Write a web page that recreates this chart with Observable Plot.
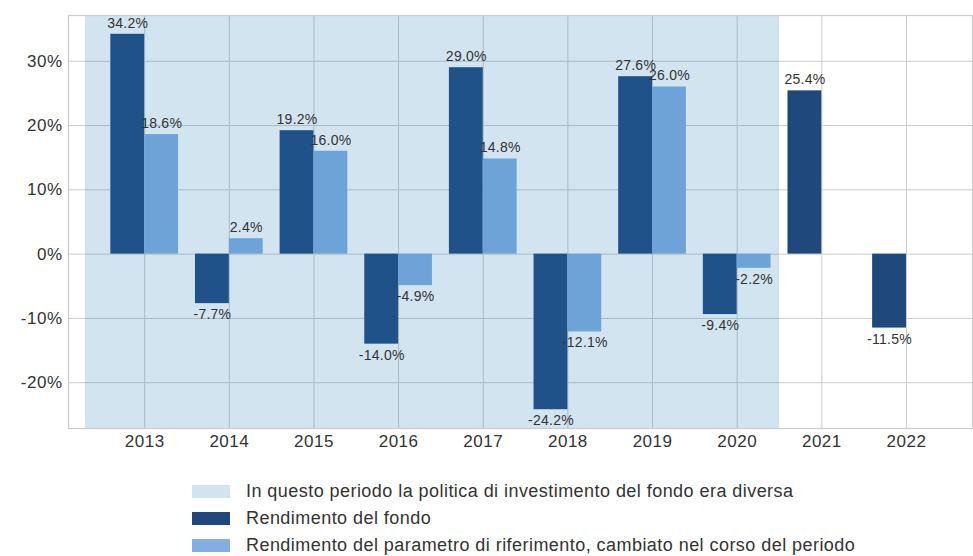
<!DOCTYPE html>
<html>
<head>
<meta charset="utf-8">
<script src="https://cdn.jsdelivr.net/npm/d3@7"></script>
<script src="https://cdn.jsdelivr.net/npm/@observablehq/plot@0.6"></script>
<style>
  body { margin: 0; background: #fff; font-family: "Liberation Sans", Arial, sans-serif; }
  #chart svg { display: block; }
  #chart g[aria-label$="tick label"] text { letter-spacing: 0.5px; }
  #chart g[aria-label="text"] text { letter-spacing: 0.25px; }
  #legend { margin-top: 20px; margin-left: 192px; color: #333; font-size: 18px; letter-spacing: 0.45px; }
  .row { display: flex; align-items: center; height: 27px; }
  .sw { width: 38px; height: 13px; margin-right: 16px; flex: none; }
</style>
</head>
<body>
<div id="chart"></div>
<div id="legend"></div>
<script>
const years = [2013, 2014, 2015, 2016, 2017, 2018, 2019, 2020, 2021, 2022];
const fund = [34.2, -7.7, 19.2, -14.0, 29.0, -24.2, 27.6, -9.4, 25.4, -11.5];
const bench = [18.6, 2.4, 16.0, -4.9, 14.8, -12.1, 26.0, -2.2, null, null];
const yTicks = [-20, -10, 0, 10, 20, 30];
const shadePeriod = [{start: 2012.3, end: 2020.5}];
const legendLabels = [
  "In questo periodo la politica di investimento del fondo era diversa",
  "Rendimento del fondo",
  "Rendimento del parametro di riferimento, cambiato nel corso del periodo"
];

const cFund = "#1f497d";
const cBench = "#83aee1";
const cShade = "#1f77b4";
const yDomain = [-27.12, 37.12];

const fundRows = years.map((year, i) => ({year, value: fund[i]}));
const benchRows = years.map((year, i) => ({year, value: bench[i]})).filter(d => d.value != null);
const fmt = v => v.toFixed(1) + "%";
const font = "'Liberation Sans', Arial, sans-serif";

const labelMarks = (rows, off) => [
  Plot.text(rows.filter(d => d.value >= 0), {x: d => d.year + off, y: "value", text: d => fmt(d.value), dy: -11, fontSize: 14, fill: "#333"}),
  Plot.text(rows.filter(d => d.value < 0), {x: d => d.year + off, y: "value", text: d => fmt(d.value), dy: 11, fontSize: 14, fill: "#333"})
];

const chart = Plot.plot({
  width: 973,
  height: 458,
  marginLeft: 68,
  marginRight: 1,
  marginTop: 15,
  marginBottom: 30,
  x: {type: "linear", domain: [2012.1, 2022.78], axis: null},
  y: {domain: yDomain, axis: null},
  style: {fontFamily: font, background: "#fff"},
  marks: [
    Plot.gridX(years, {stroke: "#cccccc", strokeOpacity: 1, strokeWidth: 1}),
    Plot.gridY(yTicks, {stroke: "#cccccc", strokeOpacity: 1, strokeWidth: 1}),
    Plot.rect(fundRows, {x1: d => d.year - 0.4, x2: d => d.year, y1: 0, y2: "value", fill: cFund}),
    Plot.rect(benchRows, {x1: d => d.year, x2: d => d.year + 0.4, y1: 0, y2: "value", fill: cBench}),
    Plot.rect(shadePeriod, {x1: "start", x2: "end", y1: yDomain[0], y2: yDomain[1], fill: cShade, fillOpacity: 0.2}),
    ...labelMarks(fundRows, -0.2),
    ...labelMarks(benchRows, 0.2),
    Plot.frame({stroke: "#cccccc", strokeWidth: 1.25}),
    Plot.axisX(years, {tickSize: 0, tickPadding: 6, tickFormat: d => String(d), fontSize: 17, fill: "#333", label: null}),
    Plot.axisY(yTicks, {tickSize: 0, tickPadding: 6, tickFormat: d => d + "%", fontSize: 17, fill: "#333", label: null})
  ]
});
document.getElementById("chart").appendChild(chart);

const swatchColors = ["#d2e4f0", cFund, cBench];
const legend = document.getElementById("legend");
legendLabels.forEach((t, i) => {
  const row = document.createElement("div");
  row.className = "row";
  const sw = document.createElement("div");
  sw.className = "sw";
  sw.style.background = swatchColors[i];
  const tx = document.createElement("span");
  tx.textContent = t;
  row.appendChild(sw);
  row.appendChild(tx);
  legend.appendChild(row);
});
</script>
</body>
</html>
